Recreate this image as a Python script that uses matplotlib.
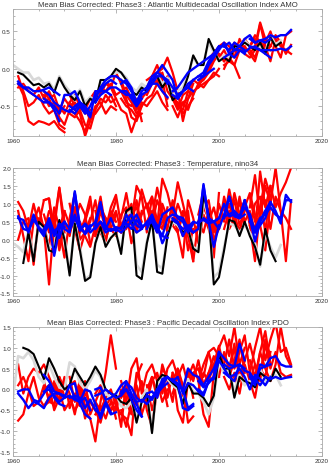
import numpy as np
import matplotlib.pyplot as plt
from matplotlib.ticker import MultipleLocator, FormatStrFormatter

plt.rcParams['font.family'] = ['Liberation Sans', 'DejaVu Sans']

# hindcast start years: two ensemble means (blue) and three members (red) per start
starts = [1961, 1966, 1971, 1976, 1981, 1986, 1991, 1996, 2001, 2006]
blue_starts = [s for s in starts for _ in range(2)]
red_starts = [s for s in starts for _ in range(3)]

# ---------------- AMO ----------------
amo_black_start = 1961
amo_black = [-0.05, -0.08, -0.15, -0.22, -0.2, -0.25, -0.2, -0.32, -0.12, -0.25,
             -0.35, -0.42, -0.3, -0.5, -0.4, -0.45, -0.15, -0.15, -0.1, 0.0,
             -0.05, -0.15, -0.3, -0.35, -0.25, -0.3, -0.15, -0.1, -0.25, -0.15,
             -0.42, -0.35, -0.3, -0.1, 0.18, 0.05, 0.05, 0.4, 0.25, 0.1,
             0.15, 0.1, 0.3, 0.3, 0.35, 0.3, 0.25, 0.35, 0.2, 0.42, 0.3, 0.35]
amo_gray_start = 1960
amo_gray = [0.05, 0.0, -0.05, -0.05, -0.15, -0.12, -0.2, -0.18, -0.28, -0.1,
            -0.22, -0.3, -0.38, -0.28, -0.45, -0.38, -0.42, -0.2, -0.18, -0.12,
            -0.05, -0.05, -0.12, -0.25, -0.3, -0.2, -0.25, -0.12, -0.08, -0.2,
            -0.12, -0.35, -0.3, -0.25, -0.08, 0.15, 0.05, 0.08, 0.35, 0.22,
            0.12, 0.18, 0.15, 0.28, 0.32, 0.38, 0.3, 0.28, 0.3, 0.22, 0.45, 0.32, 0.38]
amo_blue = [
    [-0.17, -0.25, -0.3, -0.35, -0.4, -0.45, -0.45, -0.55, -0.7],
    [-0.2, -0.25, -0.25, -0.3, -0.3, -0.28, -0.25, -0.3, -0.35],
    [-0.4, -0.45, -0.5, -0.6, -0.35, -0.35, -0.3, -0.45, -0.55],
    [-0.3, -0.35, -0.45, -0.5, -0.55, -0.58, -0.5, -0.45, -0.5, -0.6],
    [-0.5, -0.55, -0.45, -0.55, -0.65, -0.3, -0.3, -0.2, -0.15, -0.2],
    [-0.55, -0.6, -0.5, -0.6, -0.5, -0.35, -0.3, -0.3, -0.35],
    [-0.4, -0.25, -0.15, -0.1, -0.1, -0.15, -0.2, -0.3, -0.45, -0.3],
    [-0.45, -0.35, -0.3, -0.25, -0.25, -0.3, -0.35, -0.35, -0.5, -0.4],
    [-0.2, -0.15, -0.25, -0.45, -0.3, -0.25, -0.1, -0.05, -0.1, -0.2],
    [-0.3, -0.3, -0.4, -0.5, -0.35, -0.3, -0.2, -0.2, -0.3, -0.38],
    [-0.25, -0.15, -0.05, 0.05, -0.05, -0.15, -0.4, -0.3, -0.25, -0.15],
    [-0.3, -0.2, -0.1, -0.1, -0.15, -0.25, -0.35, -0.3, -0.25, -0.3],
    [-0.3, -0.25, -0.15, -0.05, 0.0, 0.05, 0.1, 0.15, 0.2, 0.3],
    [-0.35, -0.4, -0.3, -0.2, -0.15, -0.1, -0.1, -0.05, 0.0],
    [-0.1, -0.05, 0.1, 0.2, 0.3, 0.3, 0.25, 0.35, 0.3, 0.25],
    [-0.15, -0.1, 0.05, 0.15, 0.25, 0.35, 0.2, 0.15, 0.25, 0.2],
    [0.15, 0.2, 0.25, 0.25, 0.22, 0.28, 0.3, 0.25, 0.2, 0.15],
    [0.3, 0.35, 0.25, 0.3, 0.4, 0.45, 0.35, 0.38, 0.35, 0.4],
    [0.4, 0.35, 0.38, 0.4, 0.45, 0.42, 0.45, 0.45, 0.52],
    [0.3, 0.28, 0.25, 0.25, 0.25, 0.25, 0.27, 0.25, 0.3],
]
amo_red = [
    [-0.1, -0.3, -0.5, -0.45, -0.35, -0.5, -0.6, -0.55, -0.75, -0.8],
    [-0.2, -0.35, -0.7, -0.75, -0.7, -0.72, -0.75, -0.7, -0.8, -0.85],
    [-0.25, -0.2, -0.3, -0.35, -0.25, -0.4, -0.3, -0.45, -0.6, -0.5],
    [-0.35, -0.5, -0.45, -0.65, -0.75, -0.55, -0.6, -0.7, -0.85, -0.6],
    [-0.3, -0.4, -0.35, -0.55, -0.4, -0.5, -0.45, -0.55, -0.5, -0.7],
    [-0.45, -0.4, -0.55, -0.5, -0.6, -0.45, -0.35, -0.5, -0.6, -0.55],
    [-0.45, -0.55, -0.6, -0.9, -0.7, -0.5, -0.45, -0.6, -0.5, -0.55],
    [-0.35, -0.5, -0.45, -0.55, -0.4, -0.3, -0.35, -0.2, -0.25, -0.4],
    [-0.6, -0.65, -0.55, -0.75, -0.8, -0.55, -0.4, -0.45, -0.35, -0.5],
    [-0.45, -0.3, -0.15, -0.25, -0.05, -0.2, -0.4, -0.65, -0.7, -0.5],
    [-0.6, -0.5, -0.35, -0.45, -0.4, -0.55, -0.6, -0.85, -0.65, -0.6],
    [-0.35, -0.25, -0.3, -0.2, -0.35, -0.3, -0.45, -0.5, -0.4, -0.7],
    [-0.3, -0.25, -0.4, -0.55, -0.4, -0.3, -0.1, 0.05, -0.15, -0.5],
    [-0.15, -0.35, -0.45, -0.6, -0.5, -0.4, -0.35, -0.2, -0.3, -0.4],
    [-0.4, -0.5, -0.55, -0.65, -0.45, -0.5, -0.4, -0.3, -0.45, -0.55],
    [-0.25, -0.1, -0.05, 0.0, 0.15, -0.05, -0.3, -0.7, -0.4, -0.2],
    [-0.35, -0.2, -0.15, -0.25, -0.1, -0.35, -0.5, -0.45, -0.55, -0.35],
    [-0.15, -0.1, -0.2, -0.05, -0.3, -0.4, -0.45, -0.6, -0.5, -0.4],
    [-0.4, -0.55, -0.35, -0.3, -0.15, -0.2, -0.1, 0.0, 0.25, 0.2],
    [-0.5, -0.65, -0.45, -0.4, -0.3, -0.25, -0.2, -0.15, -0.1, 0.0],
    [-0.3, -0.5, -0.55, -0.3, -0.35, -0.2, -0.25, -0.15, -0.05, -0.1],
    [-0.15, -0.1, 0.05, 0.2, 0.3, 0.35, 0.3, 0.15, 0.4, 0.25],
    [-0.2, -0.15, -0.05, 0.1, 0.2, 0.1, 0.2, 0.35, 0.25, 0.3],
    [-0.25, -0.1, 0.0, 0.15, 0.15, 0.25, 0.1, 0.05, -0.12],
    [0.1, 0.2, 0.3, 0.35, 0.2, 0.15, 0.25, 0.6, 0.3, 0.25],
    [0.0, 0.15, 0.05, 0.25, 0.3, 0.2, 0.1, 0.35, 0.4, 0.3],
    [0.05, 0.1, 0.25, 0.3, 0.4, 0.3, 0.45, 0.35, 0.25, 0.3],
    [0.2, 0.3, 0.62, 0.4, 0.3, 0.45, 0.35, 0.2, 0.32],
    [0.25, 0.15, 0.35, 0.3, 0.1, 0.4, 0.3, 0.25, 0.2],
    [0.3, 0.4, 0.25, 0.35, 0.5, 0.3, 0.15, 0.45, 0.5],
]

# ---------------- Nino34 ----------------
nino_black_start = 1962
nino_black = [-0.65, 0.2, -0.6, 0.5, 0.35, -0.3, -0.35, 0.55, 0.0, -1.0,
              0.45, -0.3, -1.15, -1.05, -0.1, 0.35, -0.2, 0.05, 0.2, -0.4,
              0.8, 0.9, -1.0, -1.1, -0.1, 0.55, -0.9, -0.95, 0.1, 0.55,
              0.45, 0.2, 0.3, -0.25, -0.35, 1.25, 0.7, -1.25, -1.05, -0.3,
              0.55, 0.5, 0.1, 0.5, 0.1, -0.2, -0.7, 0.3, -0.3, -0.6]
nino_gray_start = 1960
nino_gray = [-0.1, -0.2, -0.35, 0.25, -0.5, 0.4, 0.3, -0.2, -0.2, 0.5,
             0.05, -0.9, 0.45, -0.2, -1.1, -1.0, -0.1, 0.3, -0.15, 0.05,
             0.2, -0.3, 0.7, 0.8, -0.7, -0.9, -0.05, 0.5, -0.7, -0.8,
             0.1, 0.5, 0.4, 0.2, 0.3, -0.2, -0.3, 1.1, 0.6, -1.05,
             -0.9, -0.2, 0.45, 0.4, 0.2, 0.4, 0.2, -0.1, -0.75, 0.2, -0.2, -0.5, -0.15]
nino_blue = [
    [0.6, 0.55, 0.2, 0.7, 0.3, 0.1, 0.6, 0.2, 0.05, 0.5],
    [0.65, 0.3, 0.25, 0.55, 0.35, 0.2, 0.5, -0.45, 0.3, 0.35],
    [0.3, 0.55, 0.1, 0.45, 0.3, 0.2, 1.35, 0.3, 0.2, 0.4],
    [0.2, 0.4, 0.25, 0.35, 0.5, 0.3, 0.7, 0.25, 0.45, 0.3],
    [0.3, 1.3, 0.4, 0.15, 0.35, 0.5, 1.05, 0.3, 0.6, 0.25],
    [0.25, 0.6, 0.3, 0.4, 0.2, 0.35, 0.5, 0.2, 0.3, 0.25],
    [0.4, 1.0, 0.3, 0.25, 0.35, 0.3, 0.7, 0.45, 0.2, 0.3],
    [0.3, 0.5, 0.35, 0.25, 0.3, 0.2, 0.35, 0.5, 0.7, 0.4],
    [0.3, 0.5, 0.7, 0.4, 0.3, 0.5, 0.6, 0.4, -0.1, 0.2],
    [0.35, 0.45, 0.3, 0.55, 0.35, 0.45, 0.7, 0.3, 0.1, 0.05],
    [0.4, 0.5, 0.2, 0.7, 0.8, 0.9, 0.6, 0.5, 0.2, 0.45],
    [0.3, 0.6, 0.35, 0.1, 0.6, 0.7, 0.65, 0.6, 0.3, 0.2],
    [0.6, 0.5, 0.1, 0.4, 0.2, 0.3, 1.55, 0.5, -0.2, 0.4],
    [0.55, 0.45, 0.3, 0.35, 0.5, 0.45, 0.6, 0.5, 0.5, 0.6],
    [0.4, 1.5, 0.6, 0.5, 0.3, 0.7, 1.2, 0.65, 0.6, 1.1],
    [0.5, 0.55, 0.45, 0.5, 0.6, 1.0, 0.65, 0.7, 0.6, 0.7],
    [0.6, 1.2, 0.7, 0.6, 1.1, 0.6, -0.05, 0.5, 0.8, 1.0],
    [0.65, 0.7, 0.8, 0.65, 0.9, 0.7, 0.2, 0.4, 0.6, 1.05],
    [0.7, 0.2, 0.5, 0.8, 1.05, 0.8, 0.45, 1.25, 1.05],
    [0.5, 0.3, 0.6, 0.7, 0.9, 0.7, 0.6, 1.1, 1.1],
]
nino_red = [
    [1.05, 0.8, 0.3, 1.0, 0.4, 1.1, 1.15, -0.2, 0.3, 0.8],
    [0.8, 0.1, -0.6, 0.5, 0.9, 0.3, -1.25, 0.5, 1.45, 0.2],
    [0.0, 0.5, 0.6, -0.7, 0.6, 0.2, 0.8, 0.6, -0.3, 0.4],
    [1.1, 1.15, 0.3, 1.45, 0.5, 0.1, 0.9, 0.2, 0.5, 1.0],
    [0.4, -0.2, 0.9, 0.3, -0.5, 0.6, 1.3, 0.0, 0.2, 0.6],
    [0.7, 0.2, 0.6, -0.2, 0.8, 0.4, 0.5, 1.0, 0.7, -0.1],
    [0.4, 0.9, 0.2, 0.6, 1.2, 0.1, 0.8, 0.3, 0.6, 1.1],
    [1.0, 0.3, -0.3, 0.2, 0.5, 1.1, 0.2, -0.1, 0.8, 0.5],
    [0.2, 0.6, 0.5, 0.1, -0.2, 0.4, 0.9, 0.6, 0.3, 0.7],
    [0.5, 1.2, 0.3, 0.9, 1.25, 0.4, 0.6, 1.0, 0.2, 0.8],
    [0.8, 0.2, 0.6, 0.3, 0.1, 0.7, 0.9, 0.4, 1.1, 0.3],
    [0.1, 0.5, 0.0, 0.5, 0.8, 0.2, 0.3, 0.7, 0.9, 0.5],
    [0.6, 1.3, 0.5, 1.5, 1.2, 0.2, 1.2, 0.5, 0.3, 0.9],
    [0.3, 0.8, -0.1, 0.6, 1.4, 0.9, 0.4, 1.1, 0.7, 0.2],
    [0.2, 0.4, 0.9, 0.3, 0.7, 1.0, 0.6, 0.2, 0.5, 0.8],
    [0.9, 1.2, 0.4, 1.7, 1.3, 0.7, 1.6, 1.0, 0.4, -0.6],
    [1.0, 0.6, 1.45, 0.8, 0.3, 1.1, 0.5, 0.1, 0.8, -0.5],
    [0.5, 0.8, 0.3, 1.0, 0.6, 0.4, 0.2, 0.7, -0.3, 0.3],
    [0.9, 0.2, -0.5, 1.1, 0.6, -0.1, 0.7, 0.3, -0.2, 0.6],
    [0.4, 1.0, 0.6, 0.1, -0.6, 0.5, 1.2, 0.8, 0.0, 0.3],
    [0.6, 0.3, 0.8, 0.5, 0.2, 0.4, 0.9, 0.6, -0.5, 1.3],
    [0.7, 1.3, 0.5, 0.9, 0.3, 1.2, 0.6, 1.1, 0.4, 0.8],
    [0.3, 0.9, 1.1, 0.2, 1.0, 0.5, 1.4, 0.7, 0.2, 1.0],
    [0.5, 0.2, 0.8, 0.4, 0.6, 0.9, 0.3, 0.6, 1.05, 0.4],
    [1.0, 0.5, 1.3, 0.7, 1.1, 0.4, -0.6, 0.9, 1.7, 1.2],
    [0.6, 1.0, 0.4, 1.2, 0.5, 0.8, 0.2, 1.9, 0.9, 1.5],
    [0.3, 0.8, 0.6, 0.2, 0.9, 1.3, 0.7, 0.4, -0.3, 1.0],
    [0.9, 1.8, 0.6, 1.5, 1.0, 2.0, 0.8, -0.6, 1.1],
    [0.4, 1.0, 1.2, 0.2, 1.5, 0.9, 1.3, 1.6, 2.0],
    [1.2, 0.5, 0.9, 1.1, 0.3, 1.2, 0.8, 0.6, 0.3],
]

# ---------------- PDO ----------------
pdo_black_start = 1962
pdo_black = [1.0, 0.95, 0.85, 0.55, 0.25, 0.75, 0.5, 0.2, 0.0, 0.1,
             0.5, 0.3, 0.1, 0.3, 0.55, 0.35, 0.0, -0.1, -0.15, -0.3,
             -0.35, -0.2, -0.8, -0.3, -0.1, -1.05, 0.2, 0.35, 0.3, 0.15,
             0.05, -0.35, 0.15, -0.1, -0.1, -0.2, -0.4, -0.15, 0.85, 0.5,
             0.5, -0.2, 0.3, 0.2, 0.15, 0.05, 0.4, 0.3, 0.2, 0.5, 0.3]
pdo_gray_start = 1960
pdo_gray = [-0.2, 0.8, 0.75, 0.9, 0.7, 0.3, 0.15, 0.6, 0.3, 0.05,
            0.0, 0.65, 0.55, 0.15, 0.0, 0.2, 0.45, 0.3, -0.1, -0.2,
            -0.1, -0.4, -0.45, -0.3, -0.7, -0.2, 0.0, -1.0, 0.1, 0.3,
            0.25, 0.1, 0.0, -0.3, 0.25, -0.05, -0.1, -0.3, -0.6, -0.2,
            0.7, 0.4, 0.45, -0.05, 0.35, 0.1, 0.2, 0.1, 0.5, 0.2, 0.3, 0.35, 0.1]
pdo_blue = [
    [-0.05, 0.0, 0.0, -0.25, -0.3, -0.1, 0.1, -0.2, -0.35, -0.4],
    [-0.1, -0.25, -0.45, -0.3, -0.35, -0.45, -0.2, -0.1, -0.1, -0.15],
    [0.35, 0.2, -0.05, -0.1, -0.2, -0.15, -0.25, -0.3, -0.2, -0.5],
    [-0.05, 0.0, -0.15, -0.3, -0.2, 0.1, 0.15, -0.35, -0.6, -0.7],
    [-0.2, -0.15, -0.2, -0.45, -0.25, -0.5, -0.6, -0.3, -0.55],
    [0.1, -0.2, -0.3, 0.0, -0.05, -0.35, -0.7, -0.35, -0.6, -0.55],
    [0.0, 0.05, -0.25, -0.2, -0.1, 0.1, 0.2, -0.1, -0.35, -0.65],
    [-0.15, -0.1, 0.0, -0.1, -0.2, -0.15, 0.0, -0.25, -0.5, -0.65],
    [-0.1, 0.15, 0.05, -0.2, -0.3, -0.15, -0.2, -0.1, 0.05, 0.15],
    [-0.05, 0.0, -0.15, -0.3, -0.25, -0.35, -0.2, 0.0, 0.2, 0.3],
    [-0.1, -0.05, -0.2, 0.25, 0.3, 0.2, 0.1, 0.0, -0.45, -0.35],
    [-0.15, -0.25, 0.0, 0.1, 0.3, 0.2, 0.15, -0.45, -0.5, -0.4],
    [0.25, 0.1, 0.0, 0.5, 0.35, 0.3, 0.1, 0.3, 0.5, 0.8],
    [0.2, 0.3, -0.1, 0.15, 0.1, -0.05, -0.15, 0.2, 0.3, 0.9],
    [0.2, 0.05, 0.15, 0.3, 0.9, 0.75, 0.6, 0.55, 1.1, 0.7],
    [0.0, -0.1, 0.2, 0.25, 0.7, 0.5, 0.3, 0.2, 0.6, 0.5],
    [0.6, 0.5, 0.55, 0.6, 0.45, 0.4, 0.2, 0.5, 0.55, 0.6],
    [0.4, 0.3, 0.35, 0.5, 0.3, 0.0, 0.35, 0.25, 0.1, 0.3],
    [0.3, 0.1, 0.6, 0.55, 0.75, 0.8, 0.6, 0.55, 0.55],
    [0.35, 0.25, 0.1, 0.3, 0.25, 0.3, 0.25, 0.28, 0.3],
]
pdo_red = [
    [0.6, -0.1, 0.3, 0.5, 0.4, 0.6, 0.3, 0.0, 0.3, -0.2],
    [-0.75, -0.6, -0.1, 0.3, -0.2, -0.4, -0.3, 0.2, -0.1, 0.2],
    [0.1, 0.3, 0.0, -0.4, -0.3, 0.1, -0.2, -0.4, 0.3, 0.0],
    [0.2, -0.3, -0.35, 0.0, -0.5, -0.3, -0.2, 0.2, -0.4, -0.3],
    [-0.4, -0.2, 0.1, -0.3, 0.2, -0.1, -0.6, 0.0, -0.7, -0.25],
    [0.0, 0.1, -0.5, -0.2, 0.3, -0.45, -0.1, -0.3, 0.1, -0.5],
    [0.3, -0.3, 0.1, -0.5, -0.7, -1.25, -0.3, 0.4, 1.3, 0.5],
    [-0.2, -0.5, -0.3, 0.2, -0.6, -0.3, 0.0, -0.4, -0.2, -0.7],
    [0.1, 0.2, -0.4, -0.1, -0.3, -0.5, -0.8, -0.3, -0.5, -0.4],
    [-0.3, -0.5, -0.2, 0.0, -0.4, -0.6, -0.7, -1.1, 0.3, 0.6],
    [-0.1, 0.1, -0.3, -0.5, -0.2, -0.9, 0.2, -0.5, -0.3, -0.6],
    [-0.6, -0.4, -0.7, -0.3, -0.5, 0.0, -0.3, -0.6, 0.4, 0.1],
    [0.2, -0.3, 0.5, 0.75, -0.1, 0.4, 0.6, 0.2, -0.3, 0.0],
    [-0.5, -0.9, -0.3, 0.1, -0.6, -0.2, 0.3, -0.1, 0.5, 0.3],
    [-0.2, 0.0, -0.5, -0.2, 0.2, -0.5, -0.9, 0.0, 0.2, -0.4],
    [0.0, 0.3, -0.2, 0.6, 0.2, -0.3, 0.5, 0.1, -0.8, -0.65],
    [-0.3, 0.2, 0.4, -0.1, 0.5, 0.7, 0.3, 0.0, 0.4, -0.2],
    [0.1, -0.5, 0.0, 0.3, -0.2, 0.4, -0.5, -0.8, 0.2, 0.3],
    [0.2, 0.5, 0.0, 0.3, 0.6, 0.2, -0.6, -0.9, 0.4, 0.7],
    [-0.1, 0.3, 0.6, 0.1, 0.4, 0.5, 0.3, 0.9, 1.0, 0.8],
    [0.4, 0.0, -0.2, 0.5, 0.2, 0.7, 0.1, 0.4, 0.6, 0.3],
    [0.2, 0.6, 0.9, 0.4, 1.0, 1.3, 0.8, 1.5, 0.6, 1.0],
    [0.5, 0.1, 0.4, 0.8, 0.3, 0.9, 0.5, 1.1, 0.2, 0.7],
    [0.0, 0.4, 0.2, 0.6, 1.05, 0.5, 0.3, 0.7, 1.2, 0.4],
    [0.6, 1.2, 0.5, 0.9, 1.3, 0.4, 0.2, 0.9, 1.4, 0.6],
    [0.3, 0.0, 0.4, -0.1, 0.6, 0.2, -0.2, 0.5, 0.3, 0.9],
    [0.8, 0.5, 1.0, 0.3, 0.7, 1.1, 0.6, 0.2, 1.2, 0.8],
    [0.4, 1.0, 1.5, 0.7, 1.2, 1.6, 0.9, 1.0, 0.6],
    [0.2, 0.6, 0.3, 1.1, 0.5, 0.9, 0.4, 0.3, 0.35],
    [0.7, 0.3, 0.9, 0.5, 0.2, 0.6, 1.5, 0.8, 0.55],
]

titles = ["Mean Bias Corrected: Phase3 : Atlantic Multidecadal Oscillation Index AMO",
          "Mean Bias Corrected: Phase3 : Temperature, nino34",
          "Mean Bias Corrected: Phase3 : Pacific Decadal Oscillation Index PDO"]
ylims = [(-0.9, 0.8), (-1.57, 2.0), (-1.6, 1.5)]


def yrs(start, vals):
    return np.arange(start, start + len(vals))


def draw_panel(ax, title, black_start, black, gray_start, gray, blue, red, ylim):
    for s, seg in zip(red_starts, red):
        ax.plot(yrs(s, seg), seg, color='#ff0000', lw=1.6)
    ax.plot(yrs(gray_start, gray), gray, color='#d8d8d8', lw=1.9)
    ax.plot(yrs(black_start, black), black, color='black', lw=1.5)
    for s, seg in zip(blue_starts, blue):
        ax.plot(yrs(s, seg), seg, color='#0000ff', lw=1.7)

    ax.set_xlim(1960, 2020)
    ax.set_ylim(*ylim)
    ax.xaxis.set_major_locator(MultipleLocator(20))
    ax.xaxis.set_minor_locator(MultipleLocator(5))
    ax.yaxis.set_major_locator(MultipleLocator(0.5))
    ax.yaxis.set_minor_locator(MultipleLocator(0.1))
    ax.yaxis.set_major_formatter(FormatStrFormatter('%.1f'))
    ax.tick_params(which='both', direction='in', top=True, right=True,
                   color='#999999', width=0.5, labelsize=4.5, labelcolor='#333333', pad=1.5)
    ax.tick_params(which='major', length=3)
    ax.tick_params(which='minor', length=1.5)
    for sp in ax.spines.values():
        sp.set_color('#aaaaaa')
        sp.set_linewidth(0.6)
    ax.set_title(title, fontsize=5.6, color='#333333', pad=2)


fig = plt.figure(figsize=(3.29, 4.64), dpi=100)
ax1 = fig.add_axes([0.0395, 0.7047, 0.939, 0.2737])
ax2 = fig.add_axes([0.0395, 0.3600, 0.939, 0.2759])
ax3 = fig.add_axes([0.0395, 0.0151, 0.939, 0.2780])

draw_panel(ax1, titles[0], amo_black_start, amo_black, amo_gray_start, amo_gray, amo_blue, amo_red, ylims[0])
draw_panel(ax2, titles[1], nino_black_start, nino_black, nino_gray_start, nino_gray, nino_blue, nino_red, ylims[1])
draw_panel(ax3, titles[2], pdo_black_start, pdo_black, pdo_gray_start, pdo_gray, pdo_blue, pdo_red, ylims[2])

fig.savefig('out.png', dpi=100)
